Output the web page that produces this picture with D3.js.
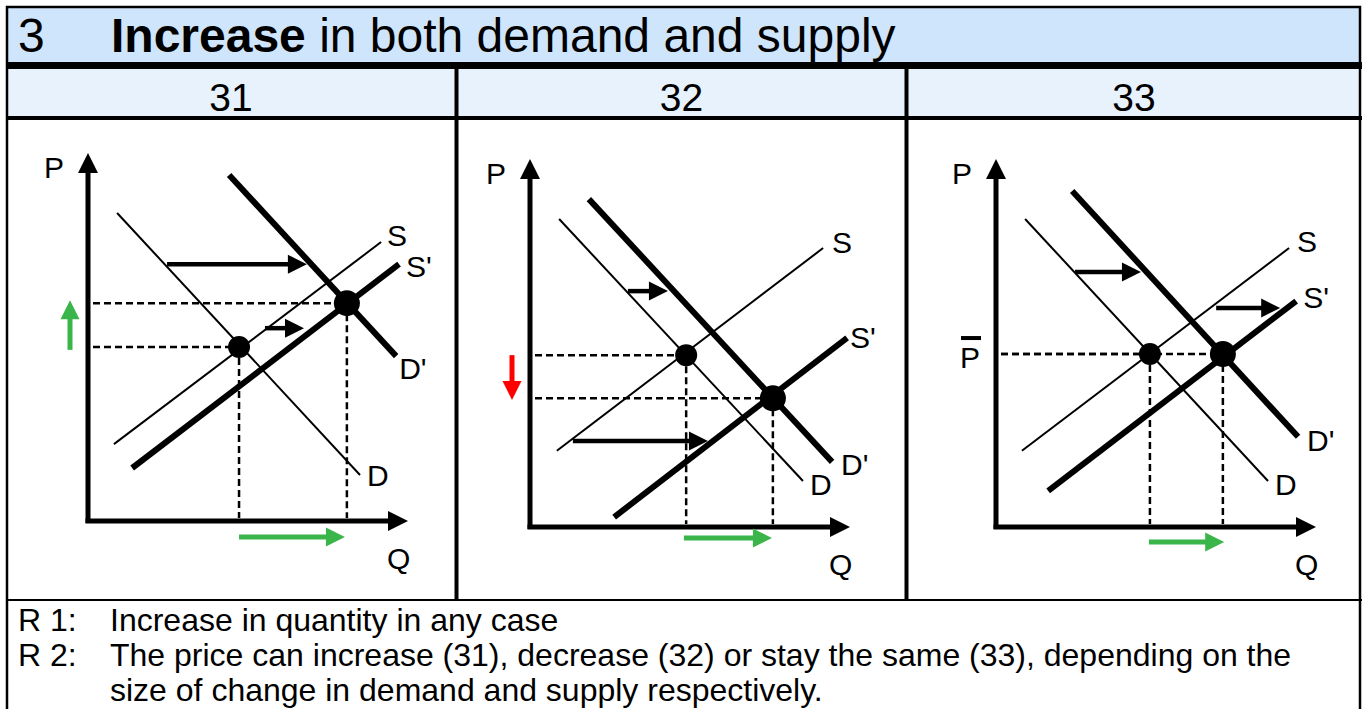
<!DOCTYPE html>
<html><head><meta charset="utf-8">
<script src="https://cdn.jsdelivr.net/npm/d3@7"></script>
<style>body{margin:0;background:#fff}svg{display:block}</style>
</head><body>
<svg id="chart" width="1365" height="709"></svg>
<script>
// ---------- text content ----------
const titleNumber = "3";
const titleBold = "Increase";
const titleRest = " in both demand and supply";
const panelIds = ["31", "32", "33"];
const remarkLabels = ["R 1:", "R 2:", ""];
const remarkTexts = [
  "Increase in quantity in any case",
  "The price can increase (31), decrease (32) or stay the same (33), depending on the",
  "size of change in demand and supply respectively."
];
const curveNames = ["D", "D'", "S", "S'"];

// ---------- data (Q, P in 0..100 axis units), one entry per panel ----------
const demandD  = [[[9.1, 83.7], [85.0, 12.5]], [[9.1, 83.7], [85.3, 12.5]], [[9.1, 83.7], [85.0, 12.5]]];
const demandD2 = [[[44.1, 94.0], [96.3, 44.8]], [[18.4, 89.1], [94.4, 17.7]], [[23.8, 91.3], [94.4, 24.5]]];
const supplyS  = [[[8.1, 20.9], [91.6, 75.8]], [[8.4, 20.7], [91.6, 75.8]], [[8.1, 20.7], [91.6, 75.8]]];
const supplyS2 = [[[13.8, 14.4], [97.2, 69.8]], [[26.3, 2.7], [99.1, 51.4]], [[16.3, 9.8], [93.8, 61.4]]];
const eqOld = [[47.2, 47.3], [48.8, 46.7], [48.1, 47.0]];
const eqNew = [[80.9, 59.2], [75.9, 35.0], [70.9, 47.0]];
// shift arrows: [q from, q to, p]
const demandShift = [[24.7, 68.4, 69.8], [30.6, 43.1, 64.1], [24.7, 45.3, 69.3]];
const supplyShift = [[55.3, 67.5, 52.4], [13.4, 55.6, 23.4], [68.8, 88.8, 59.5]];
// price change arrows: [p from, p to] (null = unchanged)
const priceChange = [[46.5, 60.0], [46.7, 34.5], null];
// quantity change arrows: [q from, q to]
const quantityChange = [[47.2, 80.3], [48.1, 75.6], [47.8, 71.3]];

// ---------- layout ----------
const font = "'Liberation Sans', Arial, Helvetica, sans-serif";
const origins = [[88, 521], [530, 527], [996, 527]];
const qtyArrowOffset = [16, 11, 15];
const labelOffsets = [
  {"D": [7, 11], "D'": [3, 23], "S": [6, 4], "S'": [7, 13]},
  {"D": [7, 14], "D'": [9, 13], "S": [9, 5], "S'": [3, 10]},
  {"D": [7, 14], "D'": [9, 14], "S": [8, 4], "S'": [7, 7]}
];
const colCenters = [231, 681.5, 1134];
const labelSize = 30;

const svg = d3.select("#chart");
const x = d3.scaleLinear().domain([0, 100]).range([0, 320]);
const y = d3.scaleLinear().domain([0, 100]).range([0, -368]);

// ---------- frame ----------
svg.append("rect").attr("x", 7).attr("y", 7).attr("width", 1353).attr("height", 55).attr("fill", "#cfe5fb");
svg.append("rect").attr("x", 7).attr("y", 69).attr("width", 1353).attr("height", 47).attr("fill", "#e8f2fd");
svg.append("rect").attr("x", 6).attr("y", 62).attr("width", 1356).attr("height", 7).attr("fill", "#000");
svg.append("rect").attr("x", 6).attr("y", 116).attr("width", 1356).attr("height", 4).attr("fill", "#000");
svg.append("rect").attr("x", 6).attr("y", 599).attr("width", 1356).attr("height", 2).attr("fill", "#000");
[456.5, 906.5].forEach(cx => svg.append("rect").attr("x", cx - 2).attr("y", 69).attr("width", 4).attr("height", 531).attr("fill", "#000"));
svg.append("rect").attr("x", 7).attr("y", 7).attr("width", 1353).attr("height", 720)
  .attr("fill", "none").attr("stroke", "#000").attr("stroke-width", 2.5);

// title
const t = svg.append("text").attr("x", 18).attr("y", 52).attr("font-family", font).attr("font-size", 48).attr("fill", "#000");
t.append("tspan").text(titleNumber);
t.append("tspan").attr("x", 111).attr("font-weight", "bold").text(titleBold);
t.append("tspan").text(titleRest);

// column headers
panelIds.forEach((id, i) => svg.append("text").attr("x", colCenters[i]).attr("y", 111)
  .attr("text-anchor", "middle").attr("font-family", font).attr("font-size", 39).text(id));

// remarks
remarkTexts.forEach((txt, i) => {
  svg.append("text").attr("x", 18).attr("y", 631 + i * 35).attr("font-family", font).attr("font-size", 32).text(remarkLabels[i]);
  svg.append("text").attr("x", 110).attr("y", 631 + i * 35).attr("font-family", font).attr("font-size", 32).text(txt);
});

// ---------- helpers ----------
function arrow(g, x1, y1, x2, y2, color, width, hl = 19, hw = 19) {
  const a = Math.atan2(y2 - y1, x2 - x1), c = Math.cos(a), s = Math.sin(a);
  const bx = x2 - hl * c, by = y2 - hl * s;
  g.append("line").attr("x1", x1).attr("y1", y1).attr("x2", bx + c).attr("y2", by + s)
    .attr("stroke", color).attr("stroke-width", width);
  g.append("path").attr("d", `M${x2},${y2}L${bx - s * hw / 2},${by + c * hw / 2}L${bx + s * hw / 2},${by - c * hw / 2}Z`)
    .attr("fill", color);
}
const lineGen = d3.line().x(d => x(d[0])).y(d => y(d[1]));

// ---------- panels ----------
panelIds.forEach((id, i) => {
  const g = svg.append("g").attr("transform", `translate(${origins[i][0]},${origins[i][1]})`);
  // guides
  [eqOld[i], eqNew[i]].forEach(e => {
    g.append("line").attr("x1", 5).attr("y1", y(e[1])).attr("x2", x(e[0])).attr("y2", y(e[1]))
      .attr("stroke", "#000").attr("stroke-width", 2.5).attr("stroke-dasharray", "7,4");
    g.append("line").attr("x1", x(e[0])).attr("y1", y(e[1])).attr("x2", x(e[0])).attr("y2", -3)
      .attr("stroke", "#000").attr("stroke-width", 2.5).attr("stroke-dasharray", "7,4");
  });
  // axes
  arrow(g, 0, 2, x(0), y(100), "#000", 5, 20, 20);
  arrow(g, -2.5, 0, x(100), y(0), "#000", 5, 20, 20);
  g.append("text").attr("x", -44).attr("y", y(100) + 25).attr("font-family", font).attr("font-size", labelSize).text("P");
  g.append("text").attr("x", x(100) - 21).attr("y", 48).attr("font-family", font).attr("font-size", labelSize).text("Q");
  // curves
  const curves = [demandD[i], demandD2[i], supplyS[i], supplyS2[i]];
  curves.forEach((c, k) => {
    g.append("path").attr("d", lineGen(c)).attr("fill", "none").attr("stroke", "#000")
      .attr("stroke-width", k % 2 === 1 ? 6 : 2);
    const off = labelOffsets[i][curveNames[k]];
    g.append("text").attr("x", x(c[1][0]) + off[0]).attr("y", y(c[1][1]) + off[1])
      .attr("font-family", font).attr("font-size", labelSize).text(curveNames[k]);
  });
  // shift arrows
  [demandShift[i], supplyShift[i]].forEach(a => arrow(g, x(a[0]), y(a[2]), x(a[1]), y(a[2]), "#000", 4.5));
  // equilibrium points
  g.append("circle").attr("cx", x(eqOld[i][0])).attr("cy", y(eqOld[i][1])).attr("r", 11).attr("fill", "#000");
  g.append("circle").attr("cx", x(eqNew[i][0])).attr("cy", y(eqNew[i][1])).attr("r", 13).attr("fill", "#000");
  // price change
  const pc = priceChange[i];
  if (pc) {
    const col = pc[1] > pc[0] ? "#3ab54a" : "#ff0000";
    arrow(g, -18, y(pc[0]), -18, y(pc[1]), col, 5);
  } else {
    g.append("text").attr("x", -36).attr("y", y(eqOld[i][1]) + 14).attr("font-family", font).attr("font-size", labelSize).text("P");
    g.append("rect").attr("x", -35).attr("y", y(eqOld[i][1]) - 18).attr("width", 20).attr("height", 4).attr("fill", "#000");
  }
  // quantity change
  const qc = quantityChange[i];
  arrow(g, x(qc[0]), qtyArrowOffset[i], x(qc[1]), qtyArrowOffset[i], "#3ab54a", 5);
});
</script>
</body></html>
